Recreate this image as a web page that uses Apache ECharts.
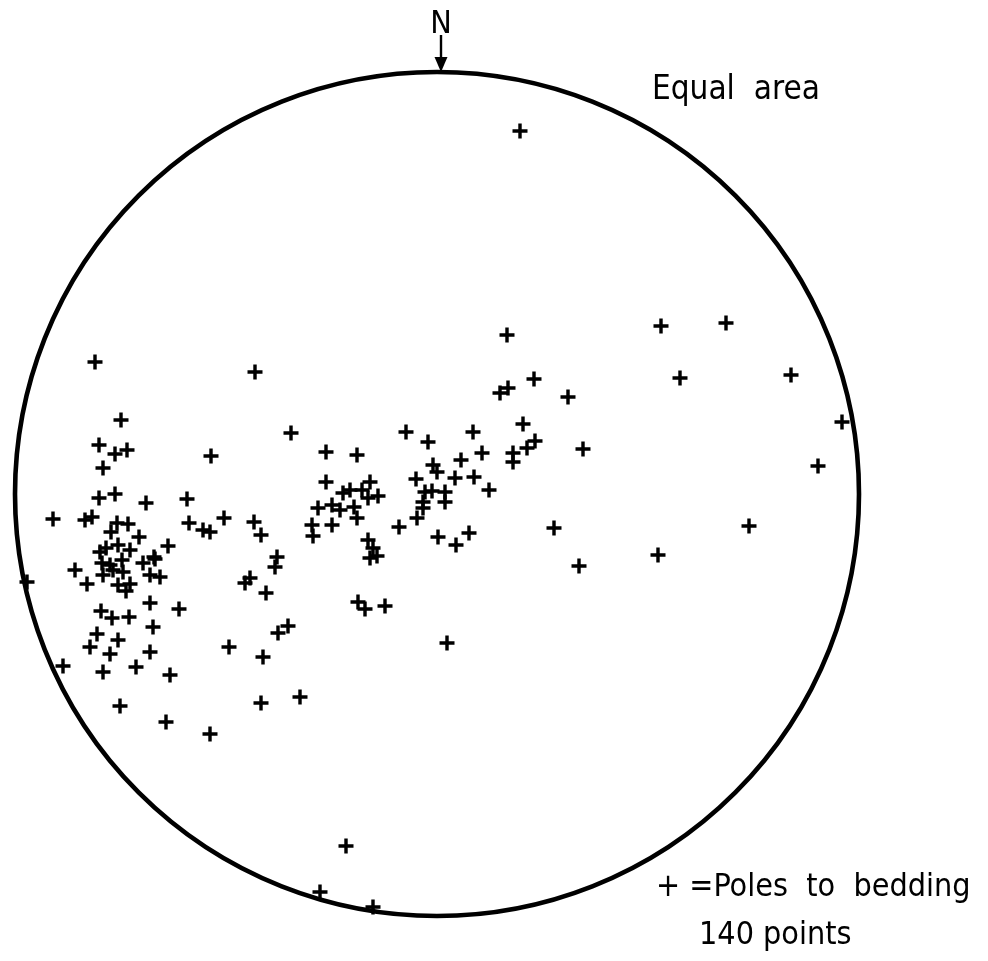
<!DOCTYPE html>
<html>
<head>
<meta charset="utf-8">
<script src="https://cdn.jsdelivr.net/npm/echarts@6/dist/echarts.min.js"></script>
<style>
  html, body { margin: 0; padding: 0; background: #fff; }
  #chart { width: 988px; height: 961px; }
</style>
</head>
<body>
<div id="chart"></div>
<script>
// Equal-area stereonet: poles to bedding, plotted in net units (primitive radius = 422)
const netRadius = 422;

// Projected pole positions: east (+) / west (-)
const poleX = [
  83, 70, 224, 289, 243, 354, 405, 381, 312, 221, 142, 117, 146, 131, 97, 63, 71, 86, 98, 90,
  76, 76, 45, 36, 24, -9, -31, -4, 0, -21, 18, 37, 52, -12, -5, 8, 8, -14, -14, -20,
  -38, 1, 19, 32, 10, -52, -72, -79, -146, -111, -80, -111, -94, -87, -67, -75, -69, -59, -119, -105,
  -97, -83, -80, -125, -124, -105, -69, -64, -60, -67, -182, -226, -250, -248, -234, -227, -213, -183, -176, -160,
  -162, -187, -192, -171, -149, -159, -208, -174, -176, -137, -227, -271, -317, -267, -301, -334, -374, -287, -327, -347,
  -319, -340, -284, -308, -325, -336, -287, -258, -410, -350, -319, -307, -311, -277, -287, -334, -324, -314, -362, -294,
  -282, -315, -335, -327, -337, -331, -319, -307, -269, -283, -298, -320, -309, -326, -384, -352, -345, -338, -322, -291,
  -338, -322, -310, -334, -316, -342, -91, -117, -64
];

// Projected pole positions: north (+) / south (-)
const poleY = [
  363, 159, 168, 171, 116, 119, 72, 28, -32, -61, -72, -34, 45, 97, 115, 101, 106, 70, 53, 46,
  41, 32, 41, 62, 34, 52, 62, 29, 22, 15, 16, 17, 4, 2, 3, 2, -8, -8, -14, -24,
  -33, -43, -51, -39, -149, -112, -115, -108, 61, 42, 39, 12, 1, 4, 12, 4, -4, -2, -14, -11,
  -16, -13, -24, -31, -42, -31, -46, -54, -62, -64, 122, 38, -5, -29, -36, -38, -24, -28, -41, -63,
  -73, -84, -89, -99, -132, -139, -153, -163, -209, -203, -240, -228, -212, -181, -173, -178, -172, -158, -160, -153,
  -146, -140, -133, -123, -124, -117, -109, -115, -88, -90, -91, -90, -97, -83, -81, -81, -76, -78, -76, -69,
  -65, -66, -69, -71, -58, -54, -51, -56, -52, -63, -43, -29, -30, -38, -25, -26, -23, -4, 0, -9,
  49, 40, 44, 26, 74, 132, -352, -398, -413
];

const poles = poleX.map((x, i) => [x, poleY[i]]);

const titleText = 'Equal  area';
const legendLine1 = '+ =Poles  to  bedding';
const legendLine2 = '140 points';

const plusPath = 'path://M5.4,0h3.2v5.4h5.4v3.2h-5.4v5.4h-3.2v-5.4h-5.4v-3.2h5.4z';
const textFont = '"DejaVu Sans Condensed", "Liberation Sans Narrow", "DejaVu Sans", sans-serif';

const chart = echarts.init(document.getElementById('chart'), null, { renderer: 'canvas' });

chart.setOption({
  animation: false,
  backgroundColor: '#ffffff',
  grid: { left: 0, right: 0, top: 0, bottom: 0, containLabel: false },
  xAxis: { type: 'value', min: -437, max: 551, show: false },
  yAxis: { type: 'value', min: -467, max: 494, show: false },
  series: [
    {
      // primitive circle with the north arrow
      type: 'custom',
      silent: true,
      data: [[0, 0]],
      renderItem: function (params, api) {
        const c = api.coord([0, 0]);
        const edge = api.coord([netRadius, 0]);
        const top = api.coord([0, netRadius]);
        const r = edge[0] - c[0];
        return {
          type: 'group',
          children: [
            {
              type: 'circle',
              shape: { cx: c[0], cy: c[1], r: r },
              style: { fill: 'none', stroke: '#000', lineWidth: 4.6 }
            },
            {
              type: 'line',
              shape: { x1: top[0] + 4, y1: top[1] - 37, x2: top[0] + 4, y2: top[1] - 8 },
              style: { stroke: '#000', lineWidth: 2.4 }
            },
            {
              type: 'polygon',
              shape: { points: [[top[0] - 2.5, top[1] - 15], [top[0] + 10.5, top[1] - 15], [top[0] + 4, top[1]]] },
              style: { fill: '#000' }
            },
            {
              type: 'text',
              x: top[0] + 4,
              y: top[1] - 47,
              style: {
                text: 'N', fill: '#000', font: '400 32px ' + textFont,
                align: 'center', verticalAlign: 'middle'
              }
            }
          ]
        };
      },
      z: 1
    },
    {
      type: 'scatter',
      data: poles,
      symbol: plusPath,
      symbolSize: 15,
      itemStyle: { color: '#000', opacity: 1 },
      silent: true,
      z: 2
    }
  ],
  graphic: [
    {
      type: 'text', left: 652, top: 74,
      style: { text: titleText, fill: '#000', font: '400 33px ' + textFont }
    },
    {
      type: 'text', left: 656, top: 872,
      style: { text: legendLine1, fill: '#000', font: '400 32px ' + textFont }
    },
    {
      type: 'text', left: 699, top: 920,
      style: { text: legendLine2, fill: '#000', font: '400 32px ' + textFont }
    }
  ]
});
</script>
</body>
</html>
